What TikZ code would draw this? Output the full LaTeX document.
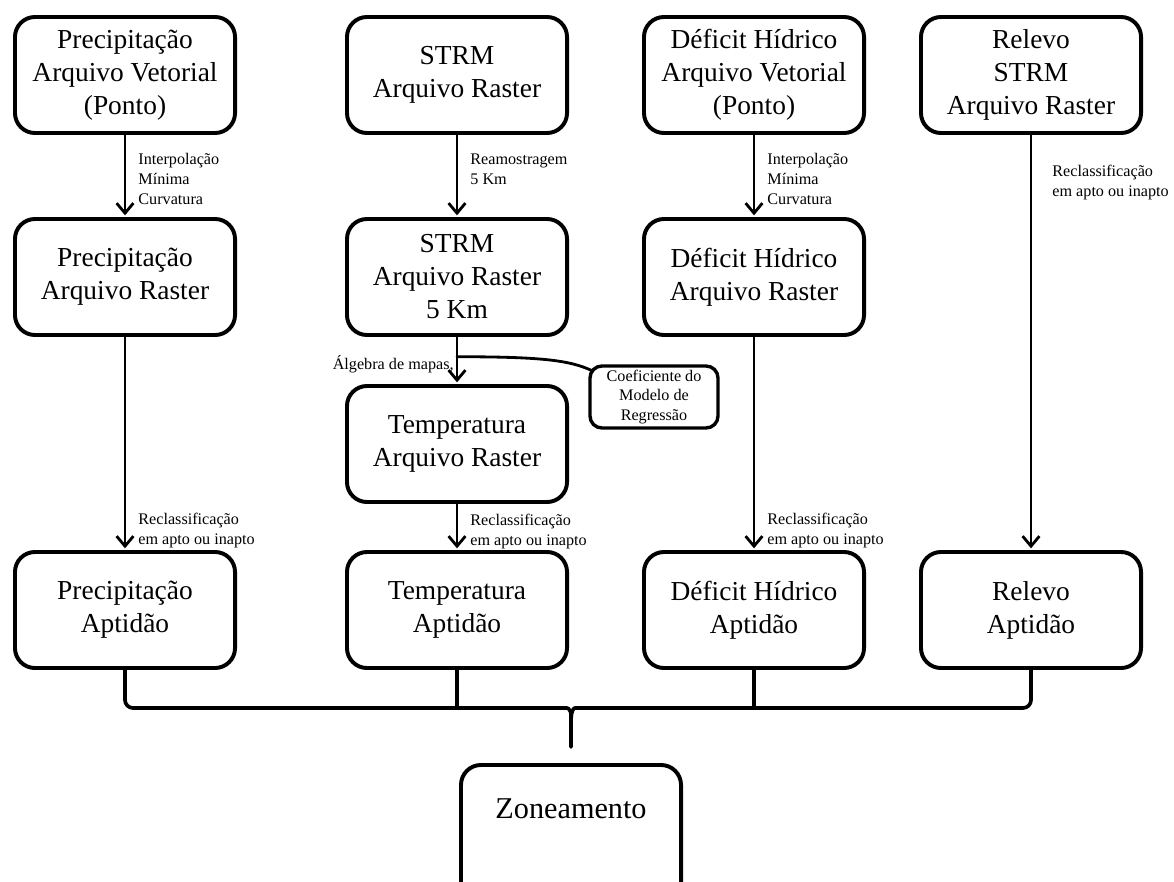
\documentclass[tikz,border=0pt]{standalone}
\usepackage{fontspec}
\setmainfont{Liberation Serif}
\usetikzlibrary{arrows.meta, calc}

\tikzset{
	box/.style={draw, line width=2.8pt, rounded corners=0.5cm, minimum width=5.5cm, minimum height=2.9cm, align=center, inner sep=0pt, font=\fontsize{19.5}{23.5}\selectfont},
	coefbox/.style={draw, line width=2.4pt, rounded corners=0.3cm, minimum width=3.2cm, minimum height=1.55cm, align=center, inner sep=0pt, font=\fontsize{11.5}{13.6}\selectfont},
	zonebox/.style={box, anchor=north, font=\fontsize{21.5}{25}\selectfont, text height=0.55cm, text depth=1.3cm, inner ysep=0.8cm},
	lbl/.style={font=\fontsize{11.5}{14.2}\selectfont, align=left, inner sep=0pt},
	flow/.style={line width=2pt, -{Straight Barb[length=0.25cm, width=0.42cm, line width=2pt]}, shorten >=1.2pt},
	brace/.style={line width=2.6pt, rounded corners=0.2cm}
}

\begin{document}
\begin{tikzpicture}[x=0.025cm, y=-0.025cm, line cap=round, line join=round]
		
		%Frame
		\useasboundingbox (0,0) rectangle (1174,881);
		
		%Sources
		\node[box] (precip vector) at (125,75) {Precipitação\\Arquivo Vetorial\\(Ponto)};
		\node[box] (strm) at (457,75) {STRM\\Arquivo Raster};
		\node[box] (deficit vector) at (754,75) {Déficit Hídrico\\Arquivo Vetorial\\(Ponto)};
		\node[box] (relief strm) at (1031,75) {Relevo\\STRM\\Arquivo Raster};
		
		%Rasters
		\node[box] (precip raster) at (125,277) {Precipitação\\Arquivo Raster};
		\node[box] (strm 5km) at (457,277) {STRM\\Arquivo Raster\\5 Km};
		\node[box] (deficit raster) at (754,277) {Déficit Hídrico\\Arquivo Raster};
		\node[box] (temp raster) at (457,444) {Temperatura\\Arquivo Raster};
		\node[coefbox] (coefficient) at (654,397) {Coeficiente do\\Modelo de\\Regressão};
		
		%Aptitude
		\node[box] (precip fit) at (125,610) {Precipitação\\Aptidão};
		\node[box] (temp fit) at (457,610) {Temperatura\\Aptidão};
		\node[box] (deficit fit) at (754,610) {Déficit Hídrico\\Aptidão};
		\node[box] (relief fit) at (1031,610) {Relevo\\Aptidão};
		\node[zonebox] (zoning) at (571,763) {Zoneamento};
		
		%Arrows
		\draw[flow] (precip vector) -- node[lbl, pos=0.54, anchor=west, xshift=0.3cm] {Interpolação\\Mínima\\Curvatura} (precip raster);
		\draw[flow] (strm) -- node[lbl, pos=0.42, anchor=west, xshift=0.3cm] {Reamostragem\\5 Km} (strm 5km);
		\draw[flow] (deficit vector) -- node[lbl, pos=0.54, anchor=west, xshift=0.3cm] {Interpolação\\Mínima\\Curvatura} (deficit raster);
		\draw[flow] (relief strm) -- node[lbl, pos=0.115, anchor=west, xshift=0.5cm] {Reclassificação\\em apto ou inapto} (relief fit);
		\draw[flow] (strm 5km) -- node[lbl, pos=0.58, anchor=east, xshift=-0.05cm] {Álgebra de mapas,} (temp raster);
		\draw[flow] (precip raster) -- node[lbl, pos=0.91, anchor=west, xshift=0.3cm] {Reclassificação\\em apto ou inapto} (precip fit);
		\draw[flow] (temp raster) -- node[lbl, pos=0.6, anchor=west, xshift=0.3cm] {Reclassificação\\em apto ou inapto} (temp fit);
		\draw[flow] (deficit raster) -- node[lbl, pos=0.91, anchor=west, xshift=0.3cm] {Reclassificação\\em apto ou inapto} (deficit fit);
		
		%Coefficient link
		\coordinate (junction) at ($(strm 5km.south)!0.42!(temp raster.north)$);
		\draw[line width=2pt] (junction) .. controls +(85,0) and +(-22,-10) .. ($(coefficient.north west)+(3,6)$);
		
		%Bracket
		\coordinate (bar) at (0,708);
		\coordinate (tip) at ($(zoning.north)+(0,-16)$);
		\draw[brace] (precip fit.south) -- (precip fit.south |- bar) -- ($(tip |- bar)+(-12,0)$) .. controls ($(tip |- bar)+(-2,0)$) and ($(tip |- bar)+(0,4)$) .. ($(tip |- bar)+(0,14)$) -- (tip);
		\draw[brace] (relief fit.south) -- (relief fit.south |- bar) -- ($(tip |- bar)+(12,0)$) .. controls ($(tip |- bar)+(2,0)$) and ($(tip |- bar)+(0,4)$) .. ($(tip |- bar)+(0,14)$);
		\draw[brace] (temp fit.south) -- (temp fit.south |- bar);
		\draw[brace] (deficit fit.south) -- (deficit fit.south |- bar);
		
	\end{tikzpicture}
\end{document}
